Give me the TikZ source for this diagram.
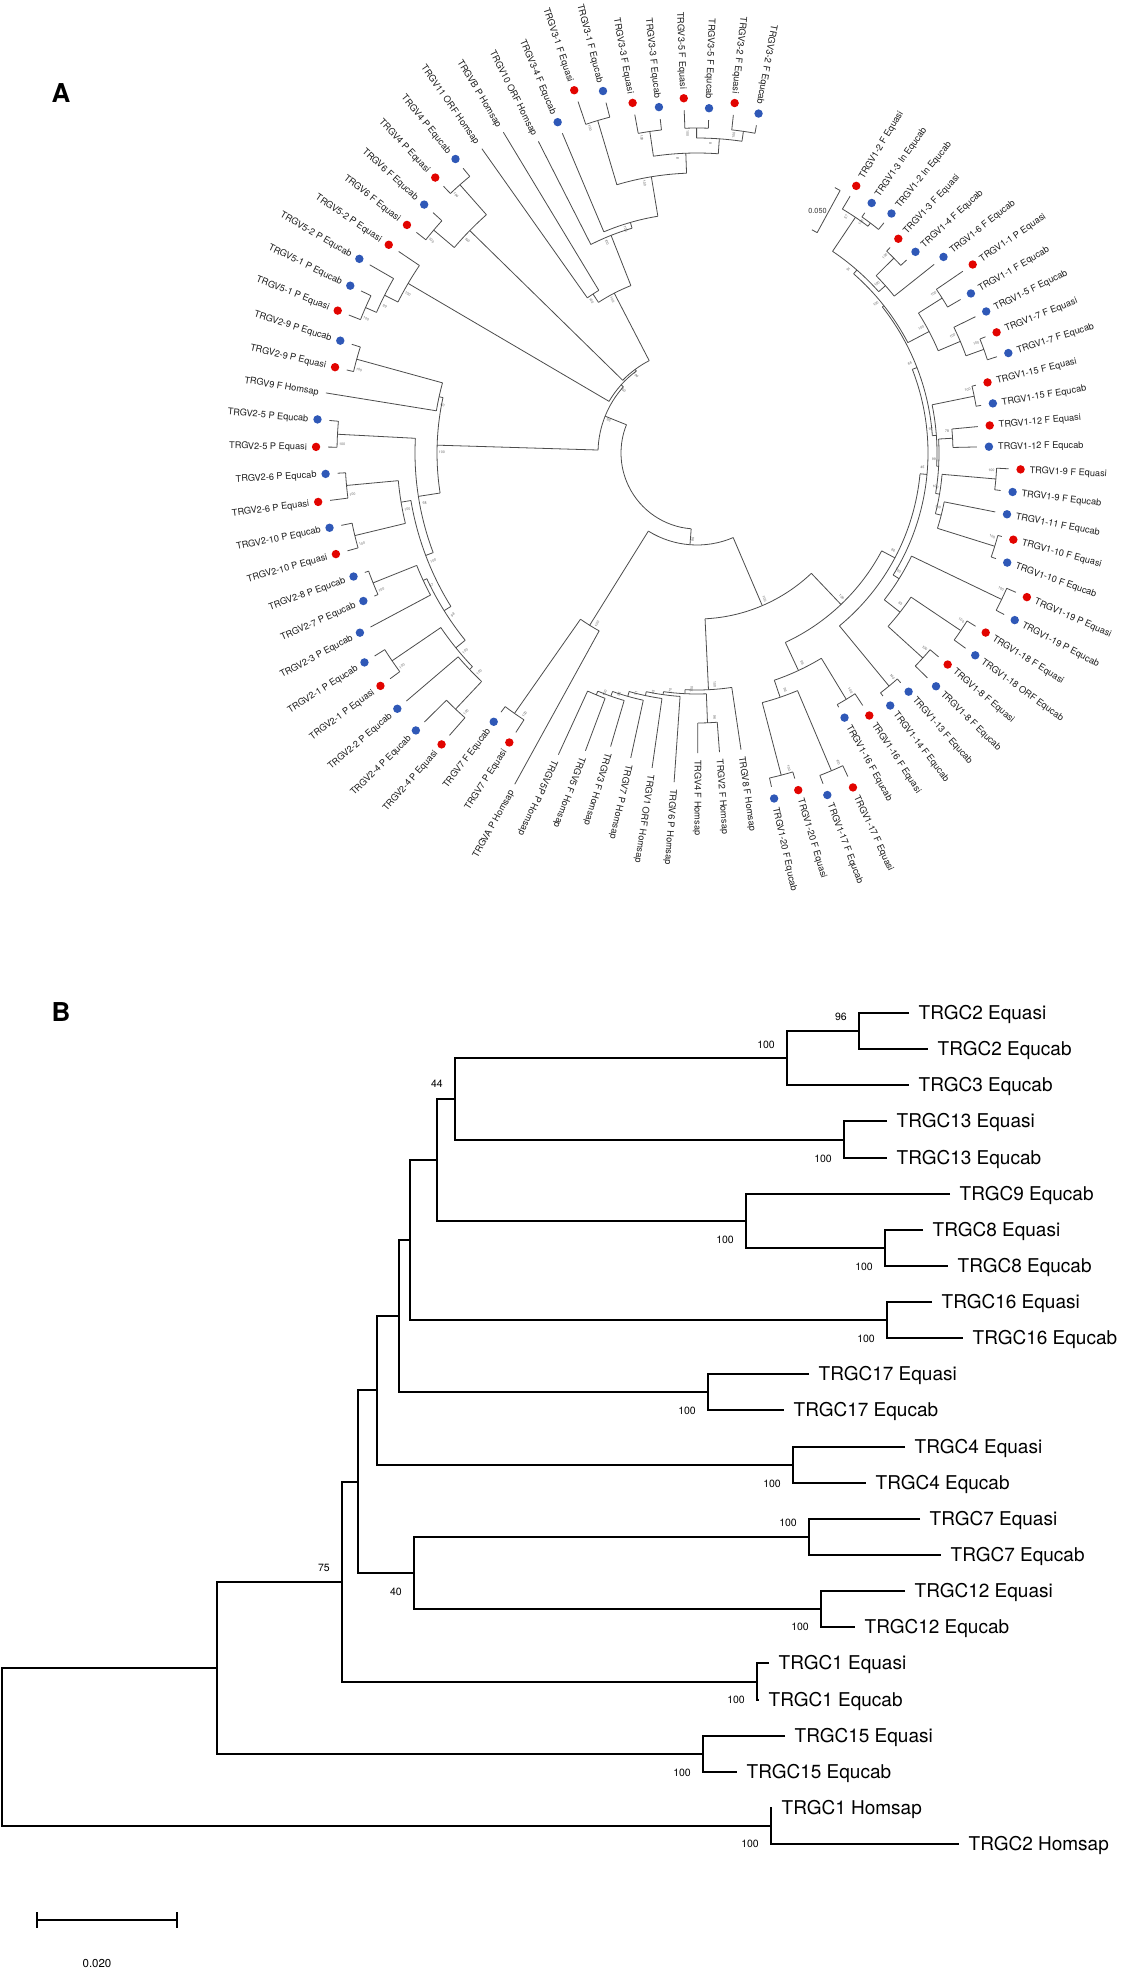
\documentclass[tikz,border=0pt]{standalone}
\usepackage{fontspec}
\setmainfont{TeX Gyre Heros}
\definecolor{dotred}{RGB}{226,4,0}
\definecolor{dotblue}{RGB}{47,88,183}
\tikzset{
  tr/.style={line width=0.8pt, draw=black!70},
  labA/.style={font=\fontsize{9.2}{10}\selectfont, text=black!88, inner sep=0pt, text height=6.6pt, text depth=0pt},
  bsA/.style={font=\fontsize{3.6}{4}\selectfont, text=black!60, inner sep=0pt},
  bl/.style={line width=2pt, line join=miter},
  labB/.style={font=\fontsize{19}{21}\selectfont, inner sep=0pt, text height=13.6pt, text depth=0pt, anchor=west},
  bsB/.style={font=\fontsize{10.5}{12}\selectfont, inner sep=0pt, anchor=east},
  panel/.style={font=\bfseries\fontsize{26}{28}\selectfont, inner sep=0pt}
}
% internal node: name, angle, r, rparent, a1, a2, bootstrap
\newcommand\tnd[7]{%
  \coordinate (#1) at ({#2}:{#3});
  \draw[tr] ({#2}:{#4}) -- (#1);
  \draw[tr] ({#5}:{#3}) arc[start angle={#5}, end angle={#6}, radius={#3}];
  \pgfmathsetmacro\bsrot{cos(#2)<0 ? #2+180 : #2}%
  \node[bsA, rotate=\bsrot] (b#1) at ({#2+1.6}:{#3-5}) {#7};}
% leaf with dot: name, angle, rparent, rtip, label, colour, side
\newcommand\tld[7]{%
  \draw[tr] ({#2}:{#3}) -- ({#2}:{#4});
  \fill[#6] ({#2}:{#4+12}) circle[radius=4.2];
  \ifnum#7=0\relax
    \node[labA, anchor=west, rotate=#2] (#1) at ({#2}:{#4+21}) {#5};
  \else
    \node[labA, anchor=east, rotate=#2+180] (#1) at ({#2}:{#4+21}) {#5};
  \fi}
% leaf without dot: name, angle, rparent, rtip, label, side
\newcommand\tln[6]{%
  \draw[tr] ({#2}:{#3}) -- ({#2}:{#4});
  \ifnum#6=0\relax
    \node[labA, anchor=west, rotate=#2] (#1) at ({#2}:{#4+7}) {#5};
  \else
    \node[labA, anchor=east, rotate=#2+180] (#1) at ({#2}:{#4+7}) {#5};
  \fi}
\begin{document}
\begin{tikzpicture}[x=1pt,y=-1pt]
\fill[white] (0,0) rectangle (1122,1971);
\useasboundingbox (0,0) rectangle (1122,1971);

\node[panel] (lA) at (61,93.5) {A};
\node[panel] (lB) at (61,1012) {B};

% ================= PANEL A =================
\begin{scope}[shift={(697,453)}, y=1pt]
% root arc
\draw[tr] (-94.38:76) arc[start angle=-94.38, end angle=-201.845, radius=76];
% TRGV1 clade
\tnd{P12a}{52.99}{288}{284}{55.06}{50.92}{100}
\tnd{P57}{56.095}{284}{243}{59.2}{52.99}{57}
\tnd{P34}{44.71}{277}{252}{46.78}{42.64}{100}
\tnd{W}{41.605}{252}{243}{44.71}{38.5}{100}
\tnd{Y1}{48.85}{243}{238}{56.095}{41.605}{91}
\tnd{P11}{32.29}{290}{262}{34.36}{30.22}{100}
\tnd{P17}{19.87}{305}{286}{21.94}{17.8}{100}
\tnd{U2}{22.975}{286}{262}{26.08}{19.87}{100}
\tnd{U1}{27.6325}{262}{238}{32.29}{22.975}{100}
\tnd{Ttop}{38.24}{238}{236}{48.85}{27.6325}{100}
\tnd{P115}{11.59}{283}{240}{13.66}{9.52}{100}
\tnd{P112}{3.31}{256}{242}{5.38}{1.24}{78}
\tnd{P19}{-4.97}{300}{246}{-2.9}{-7.04}{100}
\tnd{P110}{-17.39}{312}{252}{-15.32}{-19.46}{100}
\tnd{N1110}{-14.285}{252}{246}{-11.18}{-17.39}{100}
\tnd{N9}{-9.6275}{246}{242}{-4.97}{-14.285}{100}
\tnd{A1}{-3.159}{242}{240}{3.31}{-9.6275}{99}
\tnd{A2}{4.2155}{240}{236}{11.59}{-3.159}{97}
\tnd{T}{21.23}{236}{231}{38.24}{4.2155}{66}
\tnd{P119}{-25.67}{338}{238}{-23.6}{-27.74}{100}
\tnd{P118}{-33.95}{318}{258}{-31.88}{-36.02}{100}
\tnd{P18}{-42.23}{305}{258}{-40.16}{-44.3}{100}
\tnd{N63}{-38.09}{258}{238}{-33.95}{-42.23}{63}
\tnd{Q}{-31.88}{238}{231}{-25.67}{-38.09}{100}
\tnd{R1}{-5.325}{231}{224}{21.23}{-31.88}{45}
\tnd{P1314}{-50.51}{302}{224}{-48.44}{-52.58}{100}
\tnd{V1b}{-27.92}{224}{209}{-5.325}{-50.51}{86}
\tnd{P116}{-58.79}{288}{240}{-56.72}{-60.86}{100}
\tnd{P117}{-67.07}{345}{258}{-65}{-69.14}{100}
\tnd{P120}{-75.35}{333}{258}{-73.28}{-77.42}{100}
\tnd{X96}{-71.21}{258}{240}{-67.07}{-75.35}{96}
\tnd{V1a}{-65}{240}{209}{-58.79}{-71.21}{96}
\tnd{V1}{-46.46}{209}{166}{-27.92}{-65}{100}
% Homsap group
\tnd{P24h}{-87.77}{270}{241}{-85.7}{-89.84}{96}
\tnd{H7}{-112.61}{262}{258}{-110.54}{-114.68}{100}
\tnd{H6}{-109.505}{258}{253}{-106.4}{-112.61}{96}
\tnd{H5}{-105.8825}{253}{248}{-102.26}{-109.505}{51}
\tnd{H4}{-102}{248}{244}{-98.12}{-105.8825}{45}
\tnd{H3}{-97.99}{244}{241}{-93.98}{-102}{70}
\tnd{H2}{-92.88}{241}{237}{-87.77}{-97.99}{100}
\tnd{H}{-87.22}{237}{166}{-81.56}{-92.88}{100}
\tnd{CRH}{-66.84}{166}{92}{-46.46}{-87.22}{100}
\tnd{P7}{-125.03}{318}{203}{-122.96}{-127.1}{100}
\tnd{C7A}{-121.925}{203}{92}{-118.82}{-125.03}{100}
\tnd{Rp}{-94.38}{92}{76}{-66.84}{-121.925}{96}
% left clade
\tnd{P24}{-133.31}{352}{314}{-131.24}{-135.38}{100}
\tnd{M4}{-136.415}{314}{310}{-133.31}{-139.52}{100}
\tnd{P21}{-145.73}{369}{310}{-143.66}{-147.8}{100}
\tnd{M3}{-141.07}{310}{298}{-136.415}{-145.73}{100}
\tnd{P287}{-158.15}{349}{302}{-156.08}{-160.22}{100}
\tnd{M2}{-155.045}{302}{298}{-151.94}{-158.15}{67}
\tnd{M5}{-148.06}{298}{290}{-141.07}{-155.045}{98}
\tnd{P210}{-166.43}{352}{300}{-164.36}{-168.5}{100}
\tnd{P26}{-174.71}{352}{300}{-172.64}{-176.78}{100}
\tnd{M1}{-170.57}{300}{290}{-166.43}{-174.71}{100}
\tnd{M6}{-159.315}{290}{282}{-148.06}{-170.57}{100}
\tnd{P25}{-182.99}{360}{282}{-180.92}{-185.06}{100}
\tnd{L1b}{-171.15}{282}{260}{-159.315}{-182.99}{68}
\tnd{P29}{-195.41}{353}{264}{-193.34}{-197.48}{100}
\tnd{L1a}{-192.305}{264}{260}{-189.2}{-195.41}{40}
\tnd{L1}{-181.73}{260}{99}{-171.15}{-192.305}{100}
\tnd{P51}{-203.69}{362}{350}{-201.62}{-205.76}{100}
\tnd{N99}{-206.795}{350}{335}{-203.69}{-209.9}{99}
\tnd{N5}{-210.4175}{335}{102}{-206.795}{-214.04}{100}
\tnd{P6}{-220.25}{345}{318}{-218.18}{-222.32}{100}
\tnd{P4}{-228.53}{358}{318}{-226.46}{-230.6}{100}
\tnd{N64}{-224.39}{318}{104}{-220.25}{-228.53}{100}
\tnd{N3g}{-236.81}{190}{180}{-234.74}{-238.88}{100}
\tnd{P31}{-253.37}{347}{280}{-251.3}{-255.44}{100}
\tnd{P33}{-261.65}{325}{300}{-259.58}{-263.72}{100}
\tnd{P35}{-269.93}{325}{315}{-267.86}{-272}{100}
\tnd{P32}{-278.21}{325}{315}{-276.14}{-280.28}{100}
\tnd{N3a}{-274.07}{315}{300}{-269.93}{-278.21}{8}
\tnd{N3b}{-267.86}{300}{280}{-261.65}{-274.07}{8}
\tnd{N3c}{-260.615}{280}{240}{-253.37}{-267.86}{100}
\tnd{N3d}{-253.8875}{240}{234}{-247.16}{-260.615}{100}
\tnd{N3e}{-248.45}{234}{180}{-243.02}{-253.8875}{100}
\tnd{L3}{-242.63}{180}{104}{-236.81}{-248.45}{100}
\tnd{L2}{-233.51}{104}{102}{-224.39}{-242.63}{100}
\tnd{NL}{-221.96}{102}{99}{-210.4175}{-233.51}{100}
\tnd{L}{-201.845}{99}{76}{-181.73}{-221.96}{96}

% leaves
\tld{a1}{59.2}{284}{299}{TRGV1-2 F Equasi}{dotred}{0}
\tld{a2}{55.06}{288}{293}{TRGV1-3 In Equcab}{dotblue}{0}
\tld{a3}{50.92}{288}{296.5}{TRGV1-2 In Equcab}{dotblue}{0}
\tld{a4}{46.78}{277}{282}{TRGV1-3 F Equasi}{dotred}{0}
\tld{a5}{42.64}{277}{285}{TRGV1-4 F Equcab}{dotblue}{0}
\tld{a6}{38.5}{252}{303}{TRGV1-6 F Equcab}{dotblue}{0}
\tld{a7}{34.36}{290}{322}{TRGV1-1 P Equasi}{dotred}{0}
\tld{a8}{30.22}{290}{305}{TRGV1-1 F Equcab}{dotblue}{0}
\tld{a9}{26.08}{286}{310}{TRGV1-5 F Equcab}{dotblue}{0}
\tld{a10}{21.94}{305}{311}{TRGV1-7 F Equasi}{dotred}{0}
\tld{a11}{17.8}{305}{315}{TRGV1-7 F Equcab}{dotblue}{0}
\tld{a12}{13.66}{283}{287}{TRGV1-15 F Equasi}{dotred}{0}
\tld{a13}{9.52}{283}{288}{TRGV1-15 F Equcab}{dotblue}{0}
\tld{a14}{5.38}{256}{282}{TRGV1-12 F Equasi}{dotred}{0}
\tld{a15}{1.24}{256}{280}{TRGV1-12 F Equcab}{dotblue}{0}
\tld{a16}{-2.9}{300}{312}{TRGV1-9 F Equasi}{dotred}{0}
\tld{a17}{-7.04}{300}{306}{TRGV1-9 F Equcab}{dotblue}{0}
\tld{a18}{-11.18}{252}{304}{TRGV1-11 F Equcab}{dotblue}{0}
\tld{a19}{-15.32}{312}{316}{TRGV1-10 F Equasi}{dotred}{0}
\tld{a20}{-19.46}{312}{317}{TRGV1-10 F Equcab}{dotblue}{0}
\tld{a21}{-23.6}{338}{348}{TRGV1-19 P Equasi}{dotred}{0}
\tld{a22}{-27.74}{338}{347}{TRGV1-19 P Equcab}{dotblue}{0}
\tld{a23}{-31.88}{318}{328}{TRGV1-18 F Equasi}{dotred}{0}
\tld{a24}{-36.02}{318}{332}{TRGV1-18 ORF Equcab}{dotblue}{0}
\tld{a25}{-40.16}{305}{316}{TRGV1-8 F Equasi}{dotred}{0}
\tld{a26}{-44.3}{305}{322}{TRGV1-8 F Equcab}{dotblue}{0}
\tld{a27}{-48.44}{302}{307}{TRGV1-13 F Equcab}{dotblue}{0}
\tld{a28}{-52.58}{302}{306}{TRGV1-14 F Equcab}{dotblue}{0}
\tld{a29}{-56.72}{288}{302}{TRGV1-16 F Equasi}{dotred}{0}
\tld{a30}{-60.86}{288}{291}{TRGV1-16 F Equcab}{dotblue}{0}
\tld{a31}{-65}{345}{357}{TRGV1-17 F Equasi}{dotred}{0}
\tld{a32}{-69.14}{345}{354}{TRGV1-17 F Equcab}{dotblue}{0}
\tld{a33}{-73.28}{333}{340}{TRGV1-20 F Equasi}{dotred}{0}
\tld{a34}{-77.42}{333}{342}{TRGV1-20 F Equcab}{dotblue}{0}
\tln{a35}{-81.56}{237}{300}{TRGV8 F Homsap}{0}
\tln{a36}{-85.7}{270}{300}{TRGV2 F Homsap}{0}
\tln{a37}{-89.84}{270}{300}{TRGV4 F Homsap}{0}
\tln{a38}{-93.98}{244}{330}{TRGV6 P Homsap}{0}
\tln{a39}{-98.12}{248}{318}{TRGV1 ORF Homsap}{0}
\tln{a40}{-102.26}{253}{312}{TRGV7 P Homsap}{0}
\tln{a41}{-106.4}{258}{306}{TRGV3 F Homsap}{0}
\tln{a42}{-110.54}{262}{318}{TRGV5 F Homsap}{0}
\tln{a43}{-114.68}{262}{332}{TRGV5P P Homsap}{0}
\tln{a44}{-118.82}{203}{378}{TRGVA P Homsap}{1}
\tld{a45}{-122.96}{318}{333}{TRGV7 P Equasi}{dotred}{1}
\tld{a46}{-127.1}{318}{325}{TRGV7 F Equcab}{dotblue}{1}
\tld{a47}{-131.24}{352}{375.5}{TRGV2-4 P Equasi}{dotred}{1}
\tld{a48}{-135.38}{352}{383}{TRGV2-4 P Equcab}{dotblue}{1}
\tld{a49}{-139.52}{314}{382}{TRGV2-2 P Equcab}{dotblue}{1}
\tld{a50}{-143.66}{369}{381}{TRGV2-1 P Equasi}{dotred}{1}
\tld{a51}{-147.8}{369}{381}{TRGV2-1 P Equcab}{dotblue}{1}
\tld{a52}{-151.94}{302}{370}{TRGV2-3 P Equcab}{dotblue}{1}
\tld{a53}{-156.08}{349}{353}{TRGV2-7 P Equcab}{dotblue}{1}
\tld{a54}{-160.22}{349}{353}{TRGV2-8 P Equcab}{dotblue}{1}
\tld{a55}{-164.36}{352}{363}{TRGV2-10 P Equasi}{dotred}{1}
\tld{a56}{-168.5}{352}{363}{TRGV2-10 P Equcab}{dotblue}{1}
\tld{a57}{-172.64}{352}{370}{TRGV2-6 P Equasi}{dotred}{1}
\tld{a58}{-176.78}{352}{360}{TRGV2-6 P Equcab}{dotblue}{1}
\tld{a59}{-180.92}{360}{369}{TRGV2-5 P Equasi}{dotred}{1}
\tld{a60}{-185.06}{360}{369}{TRGV2-5 P Equcab}{dotblue}{1}
\tln{a61}{-189.2}{264}{376}{TRGV9 F Homsap}{1}
\tld{a62}{-193.34}{353}{360}{TRGV2-9 P Equasi}{dotred}{1}
\tld{a63}{-197.48}{353}{362}{TRGV2-9 P Equcab}{dotblue}{1}
\tld{a64}{-201.62}{362}{374.5}{TRGV5-1 P Equasi}{dotred}{1}
\tld{a65}{-205.76}{362}{373}{TRGV5-1 P Equcab}{dotblue}{1}
\tld{a66}{-209.9}{350}{377.5}{TRGV5-2 P Equcab}{dotblue}{1}
\tld{a67}{-214.04}{335}{360}{TRGV5-2 P Equasi}{dotred}{1}
\tld{a68}{-218.18}{345}{357}{TRGV6 F Equasi}{dotred}{1}
\tld{a69}{-222.32}{345}{357}{TRGV6 F Equcab}{dotblue}{1}
\tld{a70}{-226.46}{358}{368}{TRGV4 P Equasi}{dotred}{1}
\tld{a71}{-230.6}{358}{368.5}{TRGV4 P Equcab}{dotblue}{1}
\tln{a72}{-234.74}{190}{372.7}{TRGV11 ORF Homsap}{1}
\tln{a73}{-238.88}{190}{374.7}{TRGVB P Homsap}{1}
\tln{a74}{-243.02}{234}{349.7}{TRGV10 ORF Homsap}{1}
\tld{a75}{-247.16}{240}{347}{TRGV3-4 F Equcab}{dotblue}{1}
\tld{a76}{-251.3}{347}{371}{TRGV3-1 F Equasi}{dotred}{1}
\tld{a77}{-255.44}{347}{362}{TRGV3-1 F Equcab}{dotblue}{1}
\tld{a78}{-259.58}{325}{344}{TRGV3-3 F Equasi}{dotred}{1}
\tld{a79}{-263.72}{325}{336}{TRGV3-3 F Equcab}{dotblue}{1}
\tld{a80}{-267.86}{325}{343}{TRGV3-5 F Equasi}{dotred}{1}
\tld{a81}{-272}{325}{333}{TRGV3-5 F Equcab}{dotblue}{1}
\tld{a82}{-276.14}{325}{340}{TRGV3-2 F Equasi}{dotred}{1}
\tld{a83}{-280.28}{325}{333}{TRGV3-2 F Equcab}{dotblue}{1}

% scale bar of panel A
\coordinate (sa1) at (61.4:299);
\coordinate (sa2) at (61.4:251);
\draw[tr] (sa1) -- (sa2);
\draw[tr] (sa1) -- (62.55:299.1);
\draw[tr] (sa2) -- (62.77:251.1);
\node[font=\fontsize{7.3}{8}\selectfont, text=black!80, inner sep=0pt] (sAt) at (120.5,242) {0.050};
\end{scope}

% ================= PANEL B =================
\coordinate (c0) at (909,1013);
\coordinate (c1) at (928,1049);
\coordinate (c2) at (909,1085);
\coordinate (c3) at (887,1121);
\coordinate (c4) at (887,1158);
\coordinate (c5) at (950,1194);
\coordinate (c6) at (923,1230);
\coordinate (c7) at (948,1266);
\coordinate (c8) at (932,1302);
\coordinate (c9) at (963,1338);
\coordinate (c10) at (809,1374);
\coordinate (c11) at (784,1410);
\coordinate (c12) at (905,1447);
\coordinate (c13) at (866,1483);
\coordinate (c14) at (920,1519);
\coordinate (c15) at (941,1555);
\coordinate (c16) at (905,1591);
\coordinate (c17) at (855,1627);
\coordinate (c18) at (769,1663);
\coordinate (c19) at (759,1700);
\coordinate (c20) at (785,1736);
\coordinate (c21) at (737,1772);
\coordinate (c22) at (772,1808);
\coordinate (c23) at (959,1844);

\coordinate (n2) at (859,1031);
\coordinate (n23) at (787,1058);
\coordinate (n13) at (844,1140);
\coordinate (n44) at (455,1099);
\coordinate (n8) at (885,1248);
\coordinate (n98) at (746,1221);
\coordinate (nA) at (437,1160);
\coordinate (n16) at (887,1320);
\coordinate (nB) at (410,1240);
\coordinate (n17) at (708,1392);
\coordinate (nC) at (399,1316);
\coordinate (n4) at (793,1465);
\coordinate (nD) at (377,1390);
\coordinate (n7) at (809,1537);
\coordinate (n12) at (821,1609);
\coordinate (n40) at (414,1573);
\coordinate (nE) at (358,1482);
\coordinate (n1) at (757,1682);
\coordinate (n75) at (342,1582);
\coordinate (n15) at (703,1754);
\coordinate (nF) at (217,1668);
\coordinate (nH) at (771,1826);
\coordinate (root) at (2,1747);

\draw[bl] (c0) -| (n2) |- (c1);
\draw[bl] (n2) -| (n23) |- (c2);
\draw[bl] (c3) -| (n13) |- (c4);
\draw[bl] (n23) -| (n44) |- (n13);
\draw[bl] (c6) -| (n8) |- (c7);
\draw[bl] (c5) -| (n98) |- (n8);
\draw[bl] (n44) -| (nA) |- (n98);
\draw[bl] (c8) -| (n16) |- (c9);
\draw[bl] (nA) -| (nB) |- (n16);
\draw[bl] (c10) -| (n17) |- (c11);
\draw[bl] (nB) -| (nC) |- (n17);
\draw[bl] (c12) -| (n4) |- (c13);
\draw[bl] (nC) -| (nD) |- (n4);
\draw[bl] (c14) -| (n7) |- (c15);
\draw[bl] (c16) -| (n12) |- (c17);
\draw[bl] (n7) -| (n40) |- (n12);
\draw[bl] (nD) -| (nE) |- (n40);
\draw[bl] (c18) -| (n1) |- (c19);
\draw[bl] (nE) -| (n75) |- (n1);
\draw[bl] (c20) -| (n15) |- (c21);
\draw[bl] (n75) -| (nF) |- (n15);
\draw[bl] (c22) -| (nH) |- (c23);
\draw[bl] (nF) -| (root) |- (nH);

\node[labB] (t0) at ([xshift=9.5pt]c0) {TRGC2 Equasi};
\node[labB] (t1) at ([xshift=9.5pt]c1) {TRGC2 Equcab};
\node[labB] (t2) at ([xshift=9.5pt]c2) {TRGC3 Equcab};
\node[labB] (t3) at ([xshift=9.5pt]c3) {TRGC13 Equasi};
\node[labB] (t4) at ([xshift=9.5pt]c4) {TRGC13 Equcab};
\node[labB] (t5) at ([xshift=9.5pt]c5) {TRGC9 Equcab};
\node[labB] (t6) at ([xshift=9.5pt]c6) {TRGC8 Equasi};
\node[labB] (t7) at ([xshift=9.5pt]c7) {TRGC8 Equcab};
\node[labB] (t8) at ([xshift=9.5pt]c8) {TRGC16 Equasi};
\node[labB] (t9) at ([xshift=9.5pt]c9) {TRGC16 Equcab};
\node[labB] (t10) at ([xshift=9.5pt]c10) {TRGC17 Equasi};
\node[labB] (t11) at ([xshift=9.5pt]c11) {TRGC17 Equcab};
\node[labB] (t12) at ([xshift=9.5pt]c12) {TRGC4 Equasi};
\node[labB] (t13) at ([xshift=9.5pt]c13) {TRGC4 Equcab};
\node[labB] (t14) at ([xshift=9.5pt]c14) {TRGC7 Equasi};
\node[labB] (t15) at ([xshift=9.5pt]c15) {TRGC7 Equcab};
\node[labB] (t16) at ([xshift=9.5pt]c16) {TRGC12 Equasi};
\node[labB] (t17) at ([xshift=9.5pt]c17) {TRGC12 Equcab};
\node[labB] (t18) at ([xshift=9.5pt]c18) {TRGC1 Equasi};
\node[labB] (t19) at ([xshift=9.5pt]c19) {TRGC1 Equcab};
\node[labB] (t20) at ([xshift=9.5pt]c20) {TRGC15 Equasi};
\node[labB] (t21) at ([xshift=9.5pt]c21) {TRGC15 Equcab};
\node[labB] (t22) at ([xshift=9.5pt]c22) {TRGC1 Homsap};
\node[labB] (t23) at ([xshift=9.5pt]c23) {TRGC2 Homsap};

\node[bsB] (bn2) at ([shift={(-12,-14)}]n2) {96};
\node[bsB] (bn23) at ([shift={(-12,-13)}]n23) {100};
\node[bsB] (bn44) at ([shift={(-12,-15)}]n44) {44};
\node[bsB] (bn13) at ([shift={(-12,18.5)}]n13) {100};
\node[bsB] (bn98) at ([shift={(-12,19)}]n98) {100};
\node[bsB] (bn8) at ([shift={(-12,19)}]n8) {100};
\node[bsB] (bn16) at ([shift={(-12,19)}]n16) {100};
\node[bsB] (bn17) at ([shift={(-12,18.5)}]n17) {100};
\node[bsB] (bn4) at ([shift={(-12,18.5)}]n4) {100};
\node[bsB] (bn7) at ([shift={(-12,-14)}]n7) {100};
\node[bsB] (bn12) at ([shift={(-12,18)}]n12) {100};
\node[bsB] (bn40) at ([shift={(-12,19)}]n40) {40};
\node[bsB] (bn75) at ([shift={(-12,-14.5)}]n75) {75};
\node[bsB] (bn1) at ([shift={(-12,17.6)}]n1) {100};
\node[bsB] (bn15) at ([shift={(-12,19)}]n15) {100};
\node[bsB] (bnH) at ([shift={(-12,18)}]nH) {100};

% scale bar of panel B
\coordinate (sb1) at (37,1920);
\coordinate (sb2) at (177,1920);
\draw[line width=1.5pt] (sb1) -- (sb2);
\draw[line width=1.5pt] ([yshift=8pt]sb1) -- ([yshift=-8pt]sb1);
\draw[line width=1.5pt] ([yshift=8pt]sb2) -- ([yshift=-8pt]sb2);
\node[font=\fontsize{11.5}{13}\selectfont, inner sep=0pt] (sbt) at (97,1963) {0.020};
\end{tikzpicture}
\end{document}
